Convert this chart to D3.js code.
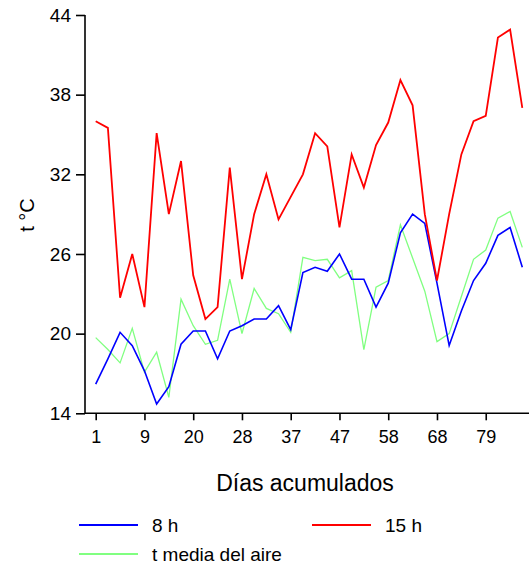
<!DOCTYPE html>
<html>
<head>
<meta charset="utf-8">
<script src="https://cdn.jsdelivr.net/npm/d3@7"></script>
<style>
  html, body { margin: 0; padding: 0; background: #fff; }
  svg { display: block; }
  text { font-family: "Liberation Sans", Arial, sans-serif; fill: #000; }
</style>
</head>
<body>
<svg id="chart" width="529" height="566"></svg>
<script>
// ---- data ----
const tickDayLabels = ["1", "9", "20", "28", "37", "47", "58", "68", "79"];
const tickEvery = 4;
const yTicks = [14, 20, 26, 32, 38, 44];

const serie8h = [16.2,18.1,20.1,19.1,17.2,14.7,16.0,19.2,20.2,20.2,18.1,20.2,20.6,21.1,21.1,22.1,20.3,24.6,25.0,24.7,26.0,24.1,24.1,22.0,23.8,27.6,29.0,28.3,23.8,19.1,21.7,24.0,25.3,27.4,28.0,25.0];
const serie15h = [36.0,35.5,22.7,26.0,22.0,35.1,29.0,33.0,24.4,21.1,22.0,32.5,24.1,29.0,32.0,28.6,30.3,32.0,35.1,34.1,28.0,33.5,31.0,34.2,35.9,39.1,37.2,29.0,24.0,29.0,33.5,36.0,36.4,42.3,42.9,37.0];
const serieMedia = [19.7,18.8,17.8,20.4,17.1,18.6,15.2,22.6,20.6,19.2,19.5,24.1,20.0,23.4,21.9,21.5,20.1,25.75,25.5,25.6,24.2,24.75,18.8,23.5,24.0,28.2,25.7,23.2,19.4,20.0,22.8,25.6,26.3,28.7,29.2,26.5];

const seriesNames = ["8 h", "15 h", "t media del aire"];
const seriesColors = ["#0000ff", "#ff0000", "#80ff80"];

// ---- layout ----
const svg = d3.select("#chart");
const axisX0 = 85, axisX1 = 529, axisYTop = 15, axisYBottom = 413.3;

const idx = d3.range(serie8h.length);
const x = d3.scalePoint().domain(idx).range([95.7, 522.3]);
const y = d3.scaleLinear().domain([14, 44]).range([axisYBottom, axisYTop]);

// axes
const xAxis = d3.axisBottom(x)
  .tickValues(idx.filter(i => i % tickEvery === 0 && i / tickEvery < tickDayLabels.length))
  .tickFormat(i => tickDayLabels[i / tickEvery])
  .tickSize(7).tickPadding(10);
const gx = svg.append("g").attr("transform", `translate(0,${axisYBottom})`).call(xAxis);
gx.select(".domain").remove();
gx.selectAll(".tick line").attr("stroke", "#000").attr("stroke-width", 1.6);
gx.selectAll(".tick text").style("font-size", "18px").attr("font-family", null);
svg.append("line").attr("x1", axisX0).attr("x2", axisX1)
  .attr("y1", axisYBottom).attr("y2", axisYBottom)
  .attr("stroke", "#000").attr("stroke-width", 1.6);

const yAxis = d3.axisLeft(y).tickValues(yTicks).tickSize(9).tickPadding(5);
const gy = svg.append("g").attr("transform", `translate(${axisX0},0)`).call(yAxis);
gy.select(".domain").remove();
gy.selectAll(".tick line").attr("stroke", "#000").attr("stroke-width", 1.6);
gy.selectAll(".tick text").style("font-size", "19px").attr("font-family", null);
svg.append("line").attr("x1", axisX0).attr("x2", axisX0)
  .attr("y1", axisYTop).attr("y2", axisYBottom)
  .attr("stroke", "#000").attr("stroke-width", 1.6);

// axis titles
svg.append("text")
  .attr("transform", "translate(34,215) rotate(-90)")
  .attr("text-anchor", "middle")
  .style("font-size", "20px")
  .text("t °C");
svg.append("text")
  .attr("x", 305).attr("y", 491)
  .attr("text-anchor", "middle")
  .style("font-size", "23px")
  .text("Días acumulados");

// lines
const line = d3.line().x((d, i) => x(i)).y(d => y(d));
const drawOrder = [
  { data: serieMedia, color: seriesColors[2], w: 1.3 },
  { data: serie8h, color: seriesColors[0], w: 1.6 },
  { data: serie15h, color: seriesColors[1], w: 1.8 }
];
drawOrder.forEach(s => {
  svg.append("path").datum(s.data)
    .attr("fill", "none")
    .attr("stroke", s.color)
    .attr("stroke-width", s.w)
    .attr("stroke-linejoin", "miter")
    .attr("d", line);
});

// legend
const legendItems = [
  { name: seriesNames[0], color: seriesColors[0], lx: 79, ly: 525 },
  { name: seriesNames[1], color: seriesColors[1], lx: 312, ly: 525 },
  { name: seriesNames[2], color: seriesColors[2], lx: 79, ly: 554 }
];
legendItems.forEach(it => {
  svg.append("line")
    .attr("x1", it.lx).attr("x2", it.lx + 59)
    .attr("y1", it.ly).attr("y2", it.ly)
    .attr("stroke", it.color).attr("stroke-width", 2);
  svg.append("text")
    .attr("x", it.lx + 73).attr("y", it.ly + 7)
    .style("font-size", "19px")
    .text(it.name);
});
</script>
</body>
</html>
